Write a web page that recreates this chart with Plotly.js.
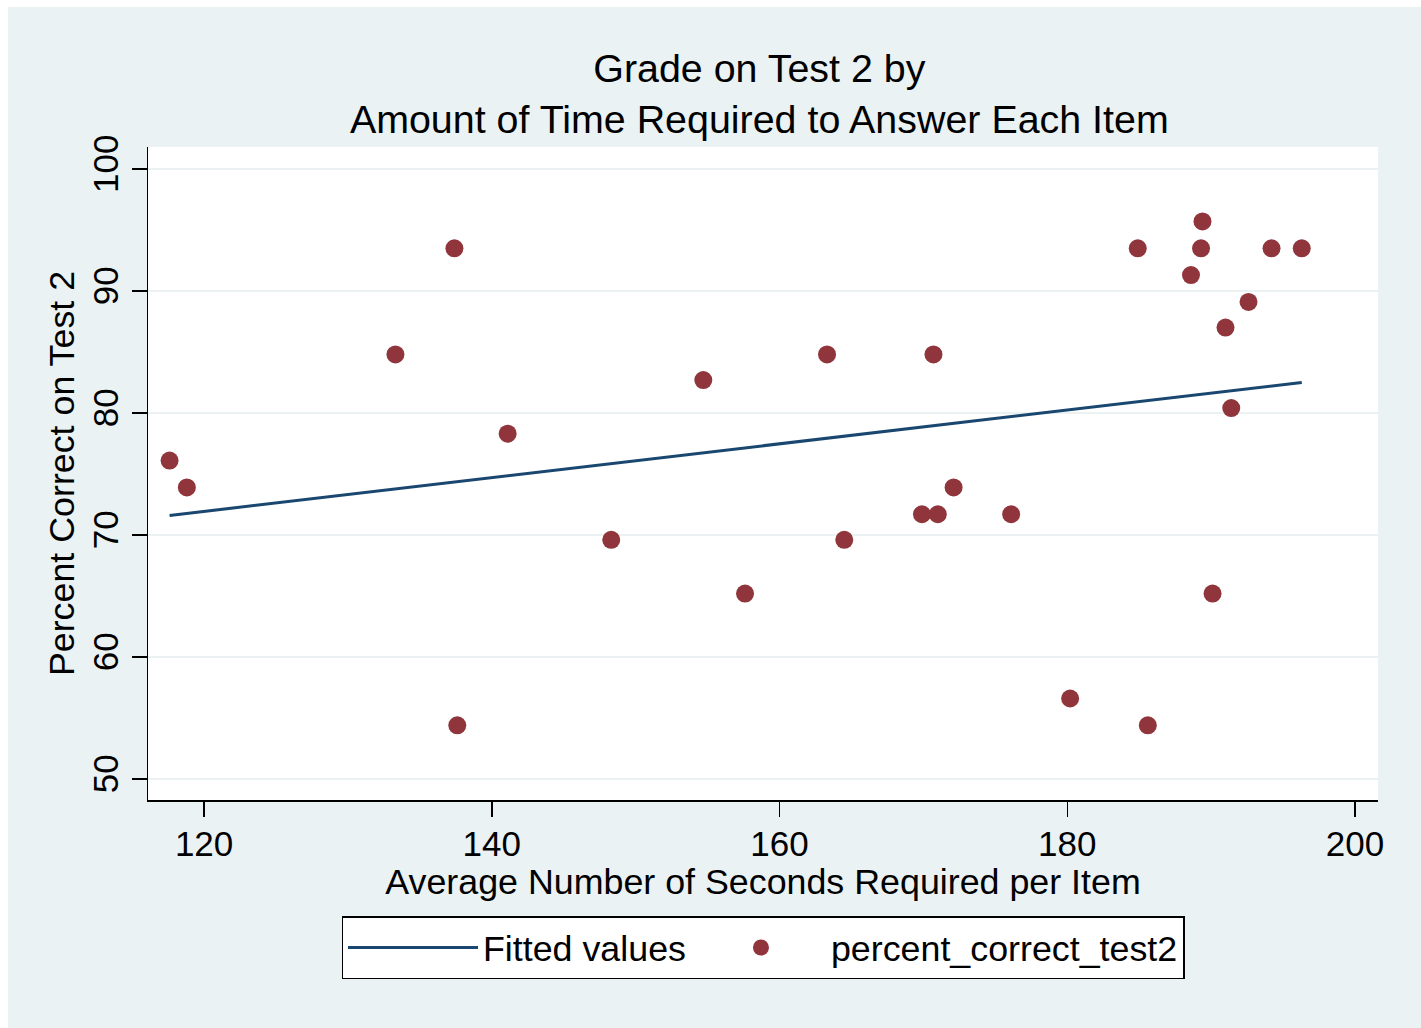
<!DOCTYPE html>
<html>
<head>
<meta charset="utf-8">
<script src="https://cdn.plot.ly/plotly-3.0.1.min.js"></script>
<style>
  html, body { margin: 0; padding: 0; background: #ffffff; width: 1421px; height: 1028px; overflow: hidden; }
  #chart { position: absolute; left: 8px; top: 7px; width: 1413px; height: 1021px; }
</style>
</head>
<body>
<div id="chart"></div>
<script>
// Observed data: average seconds per item vs percent correct on test 2
const secondsPerItem = [117.6, 118.8, 133.3, 137.4, 137.6, 141.1, 148.3, 154.7, 157.6, 163.3,
  164.5, 169.9, 170.7, 171.0, 172.1, 176.1, 180.2, 184.9, 185.6, 188.6,
  189.3, 189.4, 190.1, 191.0, 191.4, 192.6, 194.2, 196.3];
const percentCorrect = [76.1, 73.9, 84.8, 93.5, 54.4, 78.3, 69.6, 82.7, 65.2, 84.8,
  69.6, 71.7, 84.8, 71.7, 73.9, 71.7, 56.6, 93.5, 54.4, 91.3,
  93.5, 95.7, 65.2, 87.0, 80.4, 89.1, 93.5, 93.5];

// Fitted values (linear fit) read at the ends of the range
const fittedX = [117.6, 196.3];
const fittedY = [71.6, 82.5];

const xTicks = [120, 140, 160, 180, 200];
const yTicks = [50, 60, 70, 80, 90, 100];

const FONT = '"Liberation Sans", Arial, Helvetica, sans-serif';
const BG = '#EAF2F3';

const traces = [
  {
    type: 'scatter', mode: 'lines', name: 'Fitted values',
    x: fittedX, y: fittedY,
    line: { color: '#1A476F', width: 3 }
  },
  {
    type: 'scatter', mode: 'markers', name: 'percent_correct_test2',
    x: secondsPerItem, y: percentCorrect,
    marker: { color: '#90353B', size: 18, line: { width: 0 } }
  }
];

const layout = {
  width: 1413, height: 1021,
  paper_bgcolor: BG, plot_bgcolor: '#ffffff',
  font: { family: FONT, color: '#000000', size: 35 },
  margin: { l: 140, r: 43, t: 140, b: 228, pad: 0 },
  title: {
    text: 'Grade on Test 2 by<br>Amount of Time Required to Answer Each Item',
    font: { family: FONT, size: 39.4, color: '#000000' },
    x: 0.497, xref: 'paper', xanchor: 'center',
    y: 0.927, yref: 'container', yanchor: 'top'
  },
  xaxis: {
    range: [116.1, 201.6], tickvals: xTicks, ticktext: xTicks.map(String),
    ticks: 'outside', ticklen: 15, tickwidth: 1.5, tickcolor: '#000000',
    showline: true, linecolor: '#000000', linewidth: 1.5,
    showgrid: false, zeroline: false,
    tickfont: { family: FONT, size: 35 },
    ticklabelstandoff: -3,
    title: { text: 'Average Number of Seconds Required per Item', font: { family: FONT, size: 35.8 }, standoff: 0 },
    automargin: false
  },
  yaxis: {
    range: [48.28, 101.8], tickvals: yTicks, ticktext: yTicks.map(String),
    ticks: 'outside', ticklen: 15, tickwidth: 1.5, tickcolor: '#000000',
    showline: true, linecolor: '#000000', linewidth: 1.5,
    showgrid: true, gridcolor: BG, gridwidth: 2.5, zeroline: false,
    tickangle: -90,
    tickfont: { family: FONT, size: 35 },
    title: { text: 'Percent Correct on Test 2', font: { family: FONT, size: 35.8 }, standoff: 0 },
    automargin: false
  },
  showlegend: true,
  legend: {
    orientation: 'h', x: 0.5, xanchor: 'center', xref: 'paper',
    y: -0.178, yanchor: 'top', yref: 'paper',
    bgcolor: '#ffffff', bordercolor: '#000000', borderwidth: 1.5,
    font: { family: FONT, size: 35.8 },
    itemwidth: 130, traceorder: 'normal'
  }
};

Plotly.newPlot('chart', traces, layout, { displayModeBar: false, staticPlot: true });
</script>
</body>
</html>
